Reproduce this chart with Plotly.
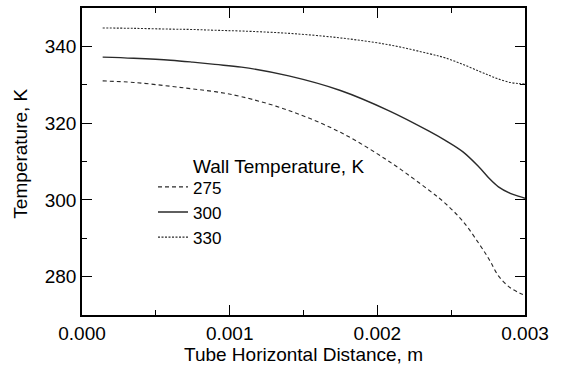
import plotly.graph_objects as go

x_m = [0.00014, 0.00035, 0.0006, 0.00075, 0.0009, 0.00108, 0.0014, 0.00175, 0.00208,
       0.00235, 0.00246, 0.00258, 0.00269, 0.00276, 0.00282, 0.0029, 0.00296, 0.003]
t_275 = [331.0, 330.6, 329.6, 328.9, 328.2, 326.9, 323.3, 317.6, 310.0,
         302.5, 299.1, 294.4, 288.5, 284.3, 280.2, 277.1, 275.8, 275.1]
t_300 = [337.2, 336.9, 336.4, 335.9, 335.3, 334.6, 332.3, 328.5, 323.2,
         317.9, 315.5, 312.5, 308.5, 305.5, 303.4, 301.7, 300.9, 300.4]
t_330 = [344.8, 344.7, 344.5, 344.4, 344.2, 344.0, 343.4, 342.2, 340.4,
         338.1, 337.0, 335.3, 333.5, 332.4, 331.5, 330.6, 330.3, 330.2]
labels = ["275", "300", "330"]
x_ticks = [0.0, 0.001, 0.002, 0.003]
x_tick_text = ["0.000", "0.001", "0.002", "0.003"]
y_ticks = [280, 300, 320, 340]

FONT = "Liberation Sans, Arial, sans-serif"
fig = go.Figure()
for lab, ys, dash, w in [(labels[0], t_275, "4px,3px", 1.1),
                         (labels[1], t_300, "solid", 1.4),
                         (labels[2], t_330, "2px,1.5px", 1.1)]:
    fig.add_trace(go.Scatter(x=x_m, y=ys, mode="lines", name=lab,
                             line=dict(color="#2a2a2a", width=w, dash=dash, shape="spline",
                                       smoothing=1.0)))

axis_common = dict(showline=True, linecolor="black", linewidth=1.5, mirror="ticks",
                   ticks="inside", ticklen=10, tickwidth=1.2, tickcolor="black",
                   showgrid=False, zeroline=False,
                   tickfont=dict(family=FONT, size=19, color="black"))
fig.update_xaxes(range=[0, 0.003], tickvals=x_ticks, ticktext=x_tick_text,
                 minor=dict(ticks="inside", ticklen=5, tickcolor="black", dtick=0.0005, tick0=0),
                 title=dict(text="Tube Horizontal Distance, m", font=dict(family=FONT, size=19, color="black"),
                            standoff=4),
                 **axis_common)
fig.update_yaxes(range=[270, 350], tickvals=y_ticks,
                 minor=dict(ticks="inside", ticklen=5, tickcolor="black", dtick=10, tick0=270),
                 **axis_common)

fig.add_annotation(text="Temperature, K", xref="paper", yref="paper",
                   x=(21 - 82) / 443, y=(318 - 154) / 312, textangle=-90, showarrow=False,
                   xanchor="center", yanchor="middle",
                   font=dict(family=FONT, size=19, color="black"))
fig.add_annotation(text="Wall Temperature, K", xref="paper", yref="paper",
                   x=(191 - 82) / 443, y=(318 - 167) / 312, showarrow=False,
                   xanchor="left", yanchor="middle",
                   font=dict(family=FONT, size=19, color="black"))

fig.update_layout(width=564, height=367, margin=dict(l=82, r=39, t=6, b=49),
                  paper_bgcolor="white", plot_bgcolor="white",
                  showlegend=True,
                  legend=dict(x=(153 - 82) / 443, y=(318 - 170) / 312, xanchor="left", yanchor="top",
                              bgcolor="rgba(0,0,0,0)", borderwidth=0, tracegroupgap=0,
                              font=dict(family=FONT, size=17, color="black")))
fig.write_html("out.html")
